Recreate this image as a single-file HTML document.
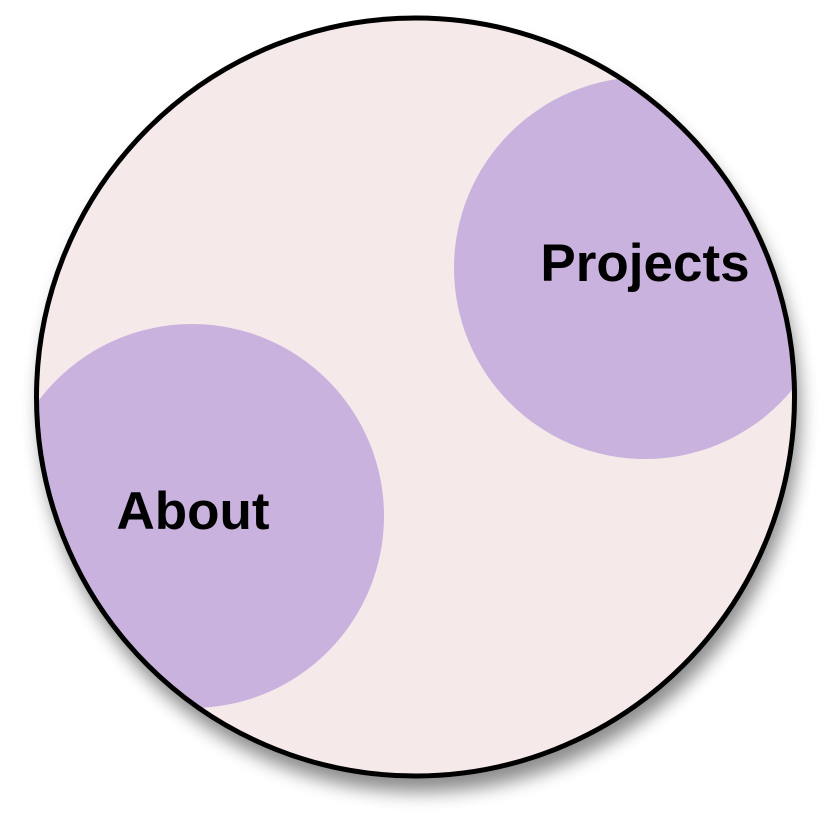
<!DOCTYPE html>
<html><head><style>html,body{margin:0;padding:0;background:#fff;width:830px;height:830px;overflow:hidden}</style></head>
<body>
<svg width="830" height="830" viewBox="0 0 830 830" xmlns="http://www.w3.org/2000/svg">
<defs>
<filter id="sh" x="-20%" y="-20%" width="140%" height="140%">
<feGaussianBlur stdDeviation="9"/>
</filter>
<clipPath id="cl"><circle cx="415.5" cy="397" r="379"/></clipPath>
</defs>
<circle cx="420" cy="412" r="380" fill="#000" opacity="0.45" filter="url(#sh)"/>
<circle cx="415.5" cy="397" r="379" fill="#f5e9ea"/>
<g clip-path="url(#cl)" fill="#c9b2de">
<circle cx="192" cy="516" r="192"/>
<circle cx="645" cy="268" r="191"/>
</g>
<circle cx="415.5" cy="397" r="379" fill="none" stroke="#000" stroke-width="5"/>
<text x="193" y="529" font-family="Liberation Sans, sans-serif" font-weight="bold" font-size="53" text-anchor="middle" fill="#000">About</text>
<text x="645" y="281" font-family="Liberation Sans, sans-serif" font-weight="bold" font-size="53" text-anchor="middle" fill="#000">Projects</text>
</svg>
</body></html>
